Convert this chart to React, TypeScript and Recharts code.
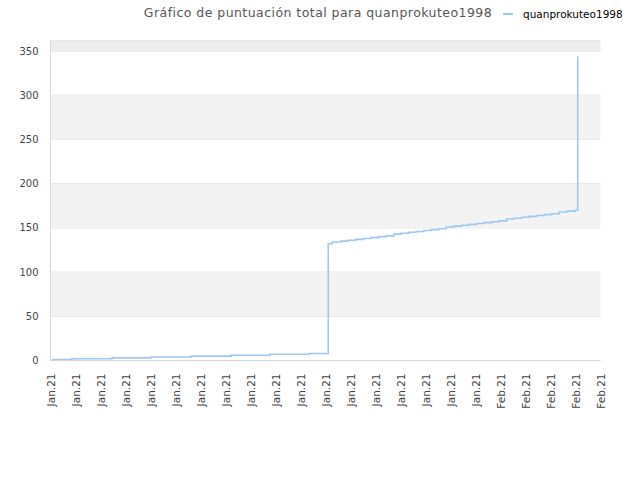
import React from 'react';
import { LineChart, Line, XAxis, YAxis, CartesianGrid, ReferenceArea } from 'recharts';

// x positions are in tick units (0 = first tick, 22 = last tick)
const tickLabels = [
  'Jan.21', 'Jan.21', 'Jan.21', 'Jan.21', 'Jan.21', 'Jan.21', 'Jan.21', 'Jan.21',
  'Jan.21', 'Jan.21', 'Jan.21', 'Jan.21', 'Jan.21', 'Jan.21', 'Jan.21', 'Jan.21',
  'Jan.21', 'Jan.21', 'Feb.21', 'Feb.21', 'Feb.21', 'Feb.21', 'Feb.21',
];

const stepX = [
  0.05, 0.86, 2.46, 4.02, 5.62, 7.22, 8.78, 10.38,
  11.11, 11.27, 11.61, 11.91, 12.21, 12.51, 12.81, 13.11, 13.42, 13.73, 14.02,
  14.33, 14.62, 14.93, 15.22, 15.53, 15.83, 16.14, 16.45, 16.74, 17.05, 17.34,
  17.65, 17.94, 18.25, 18.54, 18.85, 19.15, 19.45, 19.75, 20.05, 20.35, 20.65,
  20.98, 21.09,
];

const stepValues = [
  1, 2, 3, 4, 5, 6, 7, 8,
  132, 134, 135, 136, 137, 138, 139, 140, 141, 143, 144,
  145, 146, 147, 148, 149, 151, 152, 153, 154, 155, 156,
  157, 158, 160, 161, 162, 163, 164, 165, 166, 168, 169,
  170, 344,
];

const yTicks = [0, 50, 100, 150, 200, 250, 300, 350];
const yMax = 362;

const seriesName = 'quanprokuteo1998';
const data = stepX.map((x, i) => ({ x, score: stepValues[i] }));

const font = 'DejaVu Sans, sans-serif';

const XTick = (props: any) => {
  const { x, y, payload } = props;
  return (
    <text
      x={x + 4}
      y={y + 5}
      transform={`rotate(-90 ${x + 4} ${y + 5})`}
      textAnchor="end"
      fontSize={10.5}
      fontFamily={font}
      fill="#444"
    >
      {tickLabels[payload.value]}
    </text>
  );
};

export default function App() {
  const ticks = tickLabels.map((_, i) => i);
  return (
    <div style={{ position: 'absolute', left: 0, top: 0, width: 640, height: 480, background: '#fff' }}>
      <div
        style={{
          position: 'absolute', left: 0, width: 636, top: 5, textAlign: 'center',
          fontFamily: font, fontSize: 12.5, color: '#555', letterSpacing: 0.45,
        }}
      >
        Gráfico de puntuación total para quanprokuteo1998
      </div>
      <div style={{ position: 'absolute', left: 503, top: 8, display: 'flex', alignItems: 'center' }}>
        <div style={{ width: 10, height: 2, background: '#9cc8f4', marginRight: 10 }} />
        <span style={{ fontFamily: font, fontSize: 10.5, color: '#000' }}>{seriesName}</span>
      </div>
      <LineChart
        width={640}
        height={480}
        data={data}
        margin={{ top: 40.5, right: 39.5, bottom: 69.5, left: 6.5 }}
      >
        {[50, 150, 250].map((lo) => (
          <ReferenceArea key={lo} y1={lo} y2={lo + 50} fill="#f3f3f3" fillOpacity={1} stroke="none" />
        ))}
        <ReferenceArea y1={350} y2={yMax} fill="#eeeeee" fillOpacity={1} stroke="none" />
        <CartesianGrid vertical={false} stroke="#e0e0e0" />
        <XAxis
          dataKey="x"
          type="number"
          domain={[0, 22]}
          ticks={ticks}
          interval={0}
          height={50}
          axisLine={{ stroke: '#d8d8d8' }}
          tickLine={false}
          tick={<XTick />}
        />
        <YAxis
          type="number"
          domain={[0, yMax]}
          ticks={yTicks}
          width={44}
          axisLine={{ stroke: '#d8d8d8' }}
          tickLine={false}
          tick={{ fontSize: 10, fontFamily: font, fill: '#444' }}
          tickMargin={6}
        />
        <YAxis yAxisId="right" orientation="right" width={0} axisLine={{ stroke: '#d8d8d8' }} tick={false} tickLine={false} />
        <XAxis xAxisId="top" orientation="top" height={0} axisLine={{ stroke: '#d8d8d8' }} tick={false} tickLine={false} />
        <Line
          dataKey="score"
          type="stepAfter"
          stroke="#9cc8f4"
          strokeWidth={1.6}
          dot={false}
          isAnimationActive={false}
        />
      </LineChart>
    </div>
  );
}
